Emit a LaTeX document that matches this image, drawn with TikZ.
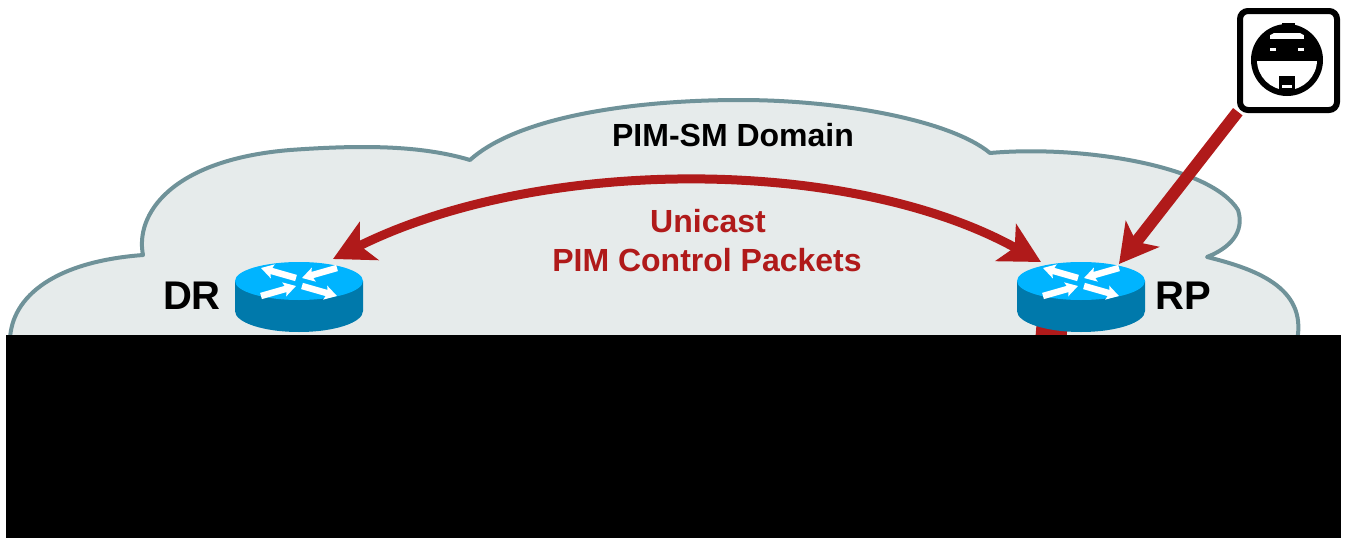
\documentclass[tikz,border=0pt]{standalone}
\usepackage{fontspec}
\setmainfont{Liberation Sans}
\usetikzlibrary{arrows.meta,calc}
\definecolor{cloudfill}{HTML}{E6EBEB}
\definecolor{cloudline}{HTML}{6F9299}
\definecolor{routertop}{HTML}{00B4FF}
\definecolor{routerside}{HTML}{0079AB}
\definecolor{linkred}{HTML}{B01A1A}
\tikzset{
  x=1pt,y=-1pt,
  cloudshape/.style={fill=cloudfill,draw=cloudline,line width=4pt,line join=round},
  routerbox/.style={inner sep=0pt,minimum width=128pt,minimum height=70pt},
  link/.style={draw=linkred,line width=12pt,-{Stealth[length=38pt,width=42pt,inset=10pt]}},
  bothlink/.style={draw=linkred,line width=9pt,{Stealth[length=40pt,width=42pt,inset=10pt]}-{Stealth[length=40pt,width=42pt,inset=10pt]}},
  routerarrow/.style={draw=white,line width=6.5pt,-{Stealth[length=12pt,width=14pt,inset=2pt]}},
  blacklabel/.style={font=\bfseries\fontsize{40}{44}\selectfont,text=black,inner sep=0pt},
  domainlabel/.style={font=\bfseries\fontsize{32}{36}\selectfont,text=black,inner sep=0pt},
  redlabel/.style={font=\bfseries\fontsize{32}{36}\selectfont,text=linkred,inner sep=0pt},
}
\newcommand{\routericon}[2]{%
  \begin{scope}[shift={(#1,#2)}]
    \fill[routerside] (-64,-16) -- (-64,14) arc[x radius=64,y radius=21,start angle=180,end angle=0] -- (64,-16) -- cycle;
    \fill[routertop] (0,-16) ellipse[x radius=64,y radius=19];
    \draw[routerarrow] (-3,-19) -- (-38,-29);
    \draw[routerarrow] (38,-29) -- (3,-19);
    \draw[routerarrow] (3,-11) -- (38,-1);
    \draw[routerarrow] (-38,-1) -- (-3,-11);
  \end{scope}}
\begin{document}
\begin{tikzpicture}
\useasboundingbox (0,0) rectangle (1345,538);
\fill[white] (0,0) rectangle (1345,538);
% cloud
\path[cloudshape] (10,345) .. controls (8,300) and (50,262) .. (143,255)
  .. controls (135,215) and (170,160) .. (290,150)
  .. controls (360,145) and (420,145) .. (470,160)
  .. controls (520,115) and (640,100) .. (740,100)
  .. controls (840,100) and (950,120) .. (990,153)
  .. controls (1080,145) and (1210,165) .. (1238,210)
  .. controls (1245,232) and (1230,248) .. (1207,257)
  .. controls (1260,270) and (1310,290) .. (1296,345) -- cycle;
% named places
\node[routerbox] (dr) at (299,297) {};
\node[routerbox] (rp) at (1081,297) {};
\node[inner sep=0pt,minimum width=100pt,minimum height=103pt] (host) at (1288,60) {};
\coordinate (drtip) at (333,259);
\coordinate (rptip) at (1041,262);
\coordinate (hosttip) at (1119,264);
\coordinate (stub) at (1050,350);
% connectors
\draw[bothlink] (drtip) .. controls (540,156) and (850,156) .. (rptip);
\draw[link] (host.south west) -- (hosttip);
\draw[draw=linkred,line width=31pt] (stub) -- (1054,300);
% routers
\routericon{299}{297}
\routericon{1081}{297}
% host icon
\draw[black,line width=6pt,fill=white,rounded corners=8pt] (1240,11) rectangle (1337,110);
\fill[black] (1282,23) rectangle (1295,30);
\fill[black] (1287,60) circle[radius=36];
\begin{scope}
  \clip (1287,60) circle[radius=30];
  \fill[white] (1250,61) rectangle (1325,100);
  \fill[white] (1270,33) rectangle (1304,39);
\end{scope}
\fill[white] (1270,48) rectangle (1276,51);
\fill[white] (1298,48) rectangle (1304,51);
\fill[black] (1279,76) rectangle (1295,93);
\fill[white] (1282,85) rectangle (1292,88);
% labels
\node[domainlabel] (domain) at (733,135) {PIM-SM Domain};
\node[redlabel] (unicast) at (708,221) {Unicast};
\node[redlabel] (control) at (707,260) {PIM Control Packets};
\node[blacklabel] (drlabel) at (192,296) {DR};
\node[blacklabel] (rplabel) at (1183,296) {RP};
% black band
\fill[black] (6,335) rectangle (1341,538);
\end{tikzpicture}
\end{document}
